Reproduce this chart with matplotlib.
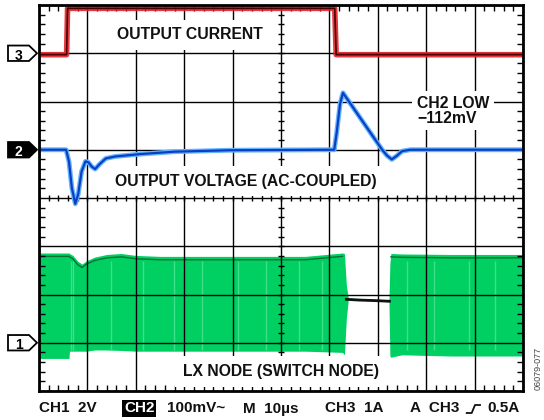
import matplotlib
matplotlib.use("Agg")
import matplotlib.pyplot as plt
import matplotlib.transforms as mtransforms
from matplotlib.patches import Polygon
from matplotlib.lines import Line2D
import numpy as np

plt.rcParams['font.family'] = ['Liberation Sans', 'DejaVu Sans']

# scope settings (per division) and channel ground levels in divisions
CH1_SCALE = 2.0      # V/div
CH2_SCALE = 100.0    # mV/div
CH3_SCALE = 1.0      # A/div
CH1_GND, CH2_GND, CH3_GND = 1, 5, 7

# CH3: output current (A) vs time (us)
cur_t = [0, 5.7, 5.9, 61.1, 61.4, 100]
cur_a = [-0.03, -0.03, 0.93, 0.93, -0.03, -0.03]

# CH2: output voltage, AC coupled (mV) vs time (us)
vout_t = [0, 5.6, 6.2, 6.8, 7.5, 8.1, 8.8, 9.6, 10.2, 10.9, 11.6, 12.5, 13.8,
          15.7, 20.9, 28.0, 39.5, 61.0, 61.5, 62.2, 62.8, 70.9, 71.9, 72.9,
          74.0, 75.0, 76.7, 100]
vout_mv = [0, 0, -25, -80, -112, -92, -45, -24, -26, -35, -40, -30, -18,
           -14, -9, -4, -1, 0, 35, 95, 118, 0, -12, -20, -12, -3, 0, 0]

# CH1: LX switch node envelope (V) vs time (us)
lx_t = [0, 6.2, 6.3, 7.0, 8.0, 8.9, 9.8, 11.5, 14.0, 17.0, 20.0, 25.0, 40.0,
        55.0, 62.7, 63.1, 63.5, 63.9, 72.3, 72.5, 72.7, 75.0, 85.0, 100]
lx_top = [3.72, 3.72, 3.70, 3.62, 3.38, 3.26, 3.40, 3.55, 3.66, 3.70, 3.62,
          3.58, 3.58, 3.58, 3.72, 3.70, 2.40, 1.86, 1.78, 3.30, 3.70, 3.68,
          3.66, 3.66]
lx_bot = [-0.65, -0.65, -0.35, -0.35, -0.35, -0.35, -0.35, -0.30, -0.30,
          -0.32, -0.35, -0.35, -0.35, -0.35, -0.40, -0.50, 1.00, 1.78, 1.70,
          -0.55, -0.60, -0.50, -0.55, -0.55]
# idle (pulse-skip) level inside the gap
idle_t = [63.5, 66.0, 69.0, 72.4]
idle_v = [1.80, 1.77, 1.75, 1.72]
# lighter switching streaks inside the band
streak_t = [6.6, 7.1, 14.8, 21.5, 27.9, 33.6, 41.2, 47.0, 53.8, 58.4,
            76.1, 81.7, 88.9, 94.3]

W, H = 544, 420
fig = plt.figure(figsize=(W / 100, H / 100), dpi=100)
ax = fig.add_axes([39 / W, (H - 391) / H, 484 / W, 386 / H])
ax.set_xlim(0, 100)
ax.set_ylim(0, 8)

t = np.array(lx_t)
top = CH1_GND + np.array(lx_top) / CH1_SCALE
bot = CH1_GND + np.array(lx_bot) / CH1_SCALE
ax.fill_between(t, bot, top, color='#00D062', lw=0, zorder=1)
ax.vlines(streak_t, CH1_GND - 0.15, CH1_GND + 1.7, color='#3EDF8A', lw=1.0, zorder=1.1)
for m in (t < 62.8, t > 72.6):
    ax.plot(t[m], top[m] - 0.07, color='#0B6E33', lw=1.0, zorder=1.2)
ax.plot(idle_t, CH1_GND + np.array(idle_v) / CH1_SCALE, color='#111111', lw=2.0, zorder=3)

# grid and graticule
ax.set_xticks(np.arange(0, 101, 10))
ax.set_yticks(np.arange(0, 9, 1))
ax.set_xticks(np.arange(0, 101, 2), minor=True)
ax.set_yticks(np.arange(0, 8.01, 0.2), minor=True)
ax.grid(True, which='major', color='black', lw=1.0, zorder=2)
ax.set_axisbelow(False)
ax.tick_params(which='major', length=0, labelbottom=False, labelleft=False)
ax.tick_params(which='minor', direction='in', length=4, width=1,
               top=True, right=True, bottom=True, left=True)
for s in ax.spines.values():
    s.set_linewidth(2.0)
    s.set_zorder(6)
minor_x = np.arange(0, 101, 2)
minor_y = np.arange(0, 8.01, 0.2)
ax.plot(minor_x, np.full(len(minor_x), 4.0), ls='none', marker='|', ms=4, mew=1,
        color='black', zorder=2)
ax.plot(np.full(len(minor_y), 50.0), minor_y, ls='none', marker='_', ms=4, mew=1,
        color='black', zorder=2)

# CH3 current
cur_y = CH3_GND + np.array(cur_a) / CH3_SCALE
ax.plot(cur_t, cur_y, color='#E3222A', lw=4.0, alpha=0.9, zorder=3)
ax.plot(cur_t, cur_y, color='#4A0000', lw=1.2, zorder=3.1)

# CH2 output voltage
vout_y = CH2_GND + np.array(vout_mv) / CH2_SCALE
ax.plot(vout_t, vout_y, color='#62B4FF', lw=3.5, zorder=3)
ax.plot(vout_t, vout_y, color='#0A3FC4', lw=1.6, zorder=3.1)

# trace labels
lab = dict(fontsize=11.3, fontweight='bold', color='#111111', zorder=5)
box = dict(boxstyle='square,pad=0.5', fc='white', ec='none')
ax.text(31.2, 7.38, 'OUTPUT CURRENT', ha='center', va='center', bbox=box, **lab)
ax.text(42.7, 4.35, 'OUTPUT VOLTAGE (AC-COUPLED)', ha='center', va='center', bbox=box, **lab)
ax.text(49.9, 0.41, 'LX NODE (SWITCH NODE)', ha='center', va='center', bbox=box, **lab)
ax.text(78.1, 5.81, 'CH2 LOW\n\u2212112mV', ha='left', va='center', linespacing=1.0,
        bbox=dict(boxstyle='square,pad=0.3', fc='white', ec='none'), **lab)

# channel ground markers on the left
mk = mtransforms.blended_transform_factory(fig.transFigure, ax.transData)
for num, gnd, filled in (('3', CH3_GND, False), ('2', CH2_GND, True), ('1', CH1_GND, False)):
    x0, x1, x2 = 8 / W, 29 / W, 37 / W
    h = 0.16
    poly = Polygon([(x0, gnd - h), (x1, gnd - h), (x2, gnd), (x1, gnd + h), (x0, gnd + h)],
                   closed=True, transform=mk, fc='black' if filled else 'white',
                   ec='black', lw=1.3, clip_on=False)
    fig.add_artist(poly)
    fig.text(18.5 / W, gnd - 0.02, num, transform=mk, ha='center', va='center_baseline',
             fontsize=10, fontweight='bold', color='white' if filled else 'black')

# scope status line
def ftext(px, s, **kw):
    return fig.text(px / W, 1 - 408.5 / H, s, ha='left', va='center', fontsize=11,
                    fontweight='bold', **kw)

ftext(39, 'CH1  2V', color='#111111')
ftext(124, 'CH2', color='white',
      bbox=dict(boxstyle='square,pad=0.1', fc='black', ec='none'))
ftext(167, '100mV~', color='#111111')
ftext(243, 'M  10\u00b5s', color='#111111')
ftext(325, 'CH3  1A', color='#111111')
ftext(410, 'A  CH3', color='#111111')
ftext(487, '0.5A', color='#111111')
sym_x = np.array([466.7, 471.7, 475.0, 480.0]) / W
sym_y = 1 - np.array([413, 413, 405, 405]) / H
fig.add_artist(Line2D(sym_x, sym_y, transform=fig.transFigure, color='#111111', lw=1.3))

fig.text(538 / W, 1 - 368 / H, '06079-077', rotation=90, ha='center', va='center',
         fontsize=6.5, color='#444444')

fig.savefig('out.png', dpi=100)
plt.close(fig)
